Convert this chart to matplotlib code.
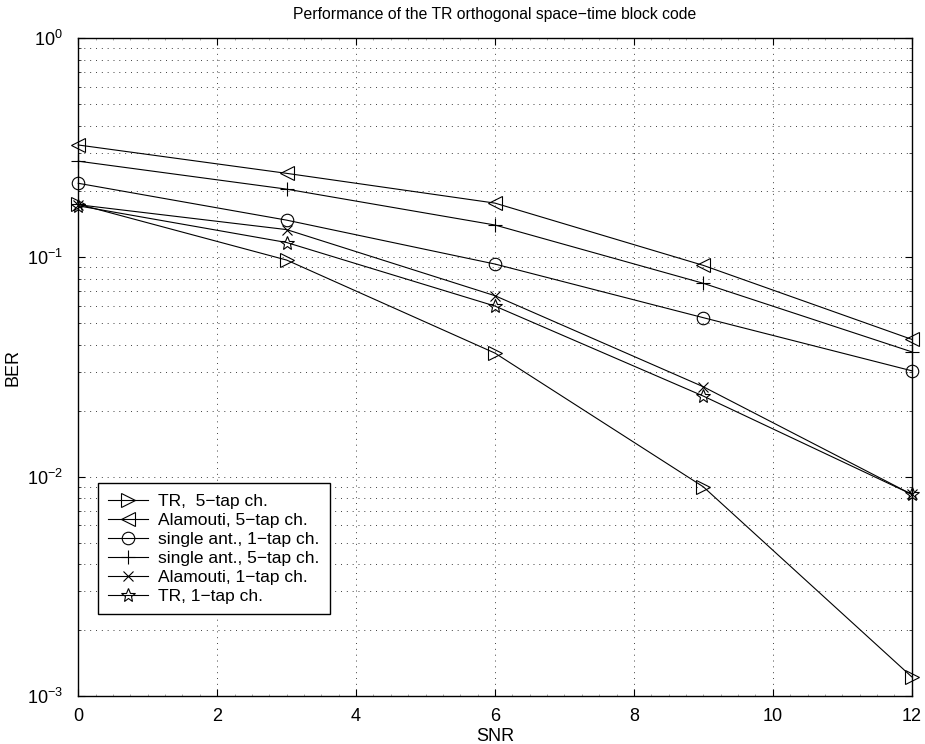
import matplotlib
matplotlib.use("Agg")
import matplotlib.pyplot as plt
from matplotlib.ticker import LogLocator, MultipleLocator, NullFormatter

plt.rcParams['font.family'] = ['Liberation Sans', 'DejaVu Sans']
plt.rcParams['mathtext.fontset'] = 'custom'
plt.rcParams['mathtext.rm'] = 'Liberation Sans'
plt.rcParams['mathtext.it'] = 'Liberation Sans'

snr = [0, 3, 6, 9, 12]
tr_5tap = [0.175, 0.0973, 0.0366, 0.00898, 0.00122]
alamouti_5tap = [0.326, 0.242, 0.177, 0.092, 0.0423]
single_1tap = [0.218, 0.148, 0.0933, 0.0531, 0.0304]
single_5tap = [0.275, 0.205, 0.1406, 0.0762, 0.0371]
alamouti_1tap = [0.174, 0.134, 0.0669, 0.0257, 0.0083]
tr_1tap = [0.172, 0.117, 0.0600, 0.0233, 0.0083]

labels = ['TR,  5\u2212tap ch.', 'Alamouti, 5\u2212tap ch.', 'single ant., 1\u2212tap ch.',
          'single ant., 5\u2212tap ch.', 'Alamouti, 1\u2212tap ch.', 'TR, 1\u2212tap ch.']
series = [tr_5tap, alamouti_5tap, single_1tap, single_5tap, alamouti_1tap, tr_1tap]
markers = ['>', '<', 'o', '+', 'x', '*']
msizes = [10, 10, 9, 10, 7.5, 10]

fig = plt.figure(figsize=(9.25, 7.44), dpi=100)
ax = fig.add_axes([0.0846, 0.0649, 0.9010, 0.8836])

for ys, lab, mk, ms in zip(series, labels, markers, msizes):
    ax.semilogy(snr, ys, color='black', linewidth=0.8, marker=mk, markersize=ms,
                markerfacecolor='none', markeredgecolor='black', markeredgewidth=0.8,
                label=lab, clip_on=False)

ax.set_xlim(0, 12)
ax.set_ylim(1e-3, 1e0)
ax.xaxis.set_major_locator(MultipleLocator(2))
ax.xaxis.set_minor_locator(MultipleLocator(0.25))
ax.yaxis.set_major_locator(LogLocator(base=10))
ax.yaxis.set_minor_locator(LogLocator(base=10, subs=range(2, 10)))
ax.yaxis.set_minor_formatter(NullFormatter())

ax.tick_params(which='both', direction='in', top=True, right=True, labelsize=13,
               color='black')
ax.tick_params(which='major', length=5, width=0.8)
ax.tick_params(axis='x', which='major', pad=9)
ax.tick_params(axis='y', which='major', pad=11)
ax.tick_params(which='minor', length=2.5, width=0.5)
ax.tick_params(axis='x', which='minor', length=1.5, width=0.4, color='0.4')

grid_kw = dict(color='0.25', linewidth=0.7, linestyle=(0, (1, 5)))
ax.grid(True, which='major', axis='both', **grid_kw)
ax.grid(True, which='minor', axis='y', **grid_kw)

for sp in ax.spines.values():
    sp.set_linewidth(1.0)

ax.set_title('Performance of the TR orthogonal space\u2212time block code', fontsize=11.3, pad=14)
ax.set_xlabel('SNR', fontsize=13, labelpad=2)
ax.set_ylabel('BER', fontsize=13, labelpad=4)

leg = ax.legend(loc='upper left', bbox_to_anchor=(0.0233, 0.3231), borderaxespad=0,
                fontsize=12.5, frameon=True, fancybox=False, edgecolor='black',
                handlelength=2.3, handletextpad=0.6, labelspacing=0.22,
                borderpad=0.6, framealpha=1)
leg.get_frame().set_linewidth(1.0)

fig.savefig('out.png', dpi=100, facecolor='white')
